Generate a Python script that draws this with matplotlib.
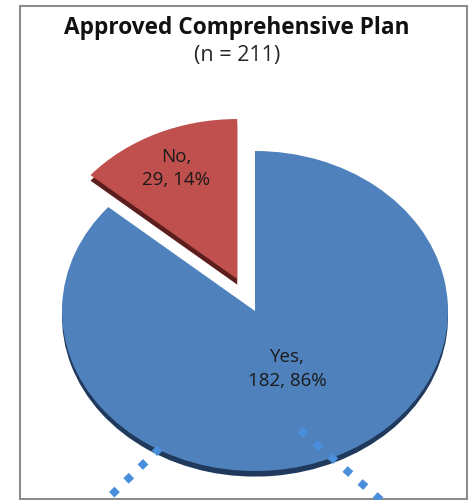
import matplotlib
matplotlib.use('Agg')
import matplotlib.pyplot as plt
from matplotlib.patches import Rectangle
from matplotlib.lines import Line2D
import numpy as np

labels = ['Yes', 'No']
counts = [182, 29]
colors = ['#4F81BD', '#C0504D']
side_colors = ['#1F3A5C', '#5C1E1C']
title = 'Approved Comprehensive Plan'
total = sum(counts)

plt.rcParams['font.family'] = ['Open Sans', 'DejaVu Sans']

W, H = 468, 500
fig = plt.figure(figsize=(W / 100, H / 100), dpi=100)
ax = fig.add_axes([0, 0, 1, 1])

# pie centre and radii in pixels, squashed like the excel 3d pie
cx, cy, rx, ry = 255, 311, 193, 160
explode = [0, 0.22]
depth = 0.035

# dark copy underneath gives the thickness
ax.pie(counts, colors=side_colors, explode=explode, startangle=90,
       counterclock=False, center=(0, -depth), wedgeprops=dict(linewidth=0))
wedges, _ = ax.pie(counts, colors=colors, explode=explode, startangle=90,
                   counterclock=False, wedgeprops=dict(linewidth=0))
ax.set_aspect('auto')
ax.set_xlim(-cx / rx, (W - cx) / rx)
ax.set_ylim((cy - H) / ry, cy / ry)
ax.axis('off')

label_r = [0.40, 0.76]
for w, lab, n, r in zip(wedges, labels, counts, label_r):
    t = np.deg2rad((w.theta1 + w.theta2) / 2)
    x0, y0 = w.center
    ax.text(x0 + r * np.cos(t), y0 + r * np.sin(t),
            '{},\n{}, {:.0%}'.format(lab, n, n / total),
            ha='center', va='center', fontsize=13.5, color='#1a1a1a',
            linespacing=1.4)

# dotted leader lines coming in from below
for xs, ys in [((160, 98), (448, 508)), ((300, 390), (430, 508))]:
    fig.add_artist(Line2D([x / W for x in xs], [1 - y / H for y in ys],
                          transform=fig.transFigure, color='#4A8FDB', lw=5.5,
                          linestyle=(0, (1, 1.6)), solid_capstyle='butt',
                          dash_capstyle='butt', zorder=5))

fig.add_artist(Rectangle((20 / W, 1 - 499 / H), 447 / W, 493 / H,
                         transform=fig.transFigure, fill=False,
                         edgecolor='#8c8c8c', lw=1.5))

fig.text(237 / W, 1 - 28 / H, title, ha='center', va='center',
         fontsize=16.3, fontweight='bold', color='#111111')
fig.text(237 / W, 1 - 56 / H, '(n = {})'.format(total), ha='center',
         va='center', fontsize=15.5, color='#262626')

fig.savefig('out.png', dpi=100)
